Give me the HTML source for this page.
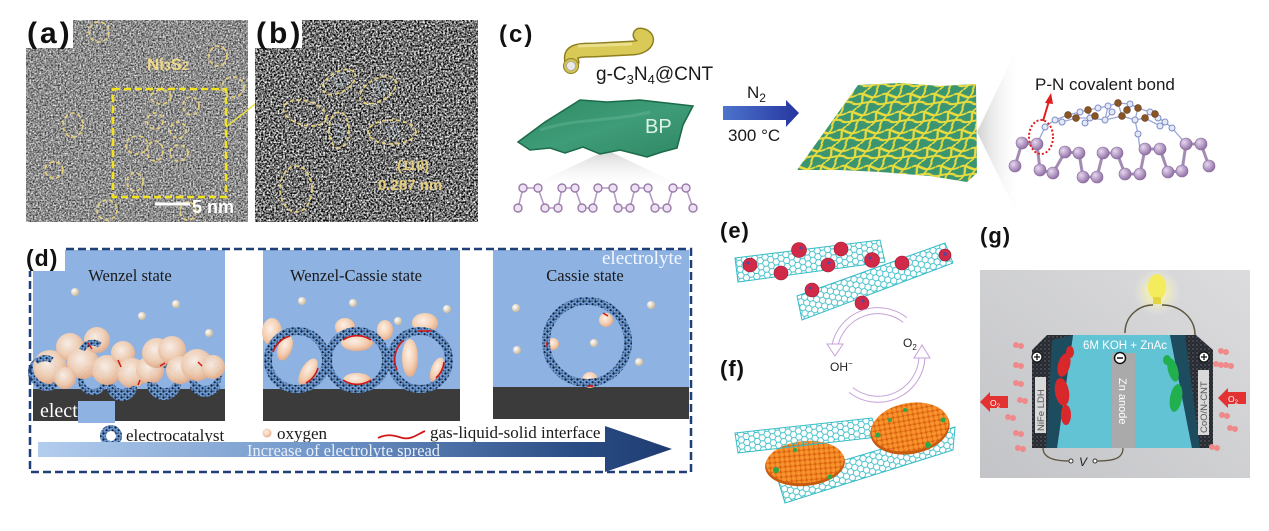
<!DOCTYPE html>
<html><head><meta charset="utf-8">
<style>
html,body{margin:0;padding:0;background:#fff;}
svg{display:block;}
.rb{fill:none;stroke:url(#rs);stroke-width:8}
.rb6{fill:none;stroke:url(#rs);stroke-width:6}
.pe{fill:url(#peach)}
.ox{fill:url(#oxy)}
.yc{fill:none;stroke:#e6cf7c;stroke-width:1.8;stroke-dasharray:4 3}
.pa{fill:url(#pAtom);stroke:#86669a;stroke-width:.6}
.na{fill:#e4e9f8;stroke:#7d8cc6;stroke-width:1}
.ca{fill:#8a5526;stroke:#5e3510;stroke-width:.6}
.ch{fill:#ece2f2;stroke:#9a7aaa;stroke-width:1.4}
.rp{fill:#d02a48;stroke:#a0182f;stroke-width:.6}
.bub{fill:#f08a8a}
.ser{font-family:'Liberation Serif','Times New Roman',serif}
</style>
</head><body>
<svg width="1269" height="531" viewBox="0 0 1269 531" xmlns="http://www.w3.org/2000/svg" font-family="'Liberation Sans', Arial, sans-serif">
<defs>
 <filter id="temA" x="0" y="0" width="1" height="1" filterUnits="objectBoundingBox" color-interpolation-filters="sRGB">
  <feTurbulence type="fractalNoise" baseFrequency="0.6" numOctaves="3" seed="4"/>
  <feColorMatrix type="matrix" values="1.3 0 0 0 -0.1  1.3 0 0 0 -0.1  1.3 0 0 0 -0.1  0 0 0 0 1"/>
 </filter>
 <filter id="temB" x="0" y="0" width="1" height="1" filterUnits="objectBoundingBox" color-interpolation-filters="sRGB">
  <feTurbulence type="fractalNoise" baseFrequency="0.55" numOctaves="3" seed="9"/>
  <feColorMatrix type="matrix" values="2.2 0 0 0 -0.66  2.2 0 0 0 -0.66  2.2 0 0 0 -0.66  0 0 0 0 1"/>
 </filter>
 <pattern id="rs" width="6" height="6" patternUnits="userSpaceOnUse">
  <rect width="6" height="6" fill="#6d9cd6"/>
  <circle cx="1.5" cy="1.5" r="1.2" fill="#142033"/><circle cx="4.6" cy="4.2" r="1.1" fill="#142033"/>
  <rect x="3.2" y="0.6" width="1.6" height="1" fill="#26344a"/><rect x="0.5" y="4.4" width="1.4" height="1.2" fill="#2a3a55"/>
 </pattern>
 <radialGradient id="peach" cx=".42" cy=".38" r=".65">
  <stop offset="0" stop-color="#fdf0e6"/><stop offset=".6" stop-color="#f3cfb2"/><stop offset="1" stop-color="#e4a985"/>
 </radialGradient>
 <radialGradient id="oxy" cx=".35" cy=".35" r=".7">
  <stop offset="0" stop-color="#ffffff"/><stop offset="1" stop-color="#c9b594"/>
 </radialGradient>
 <radialGradient id="pAtom" cx=".35" cy=".35" r=".7">
  <stop offset="0" stop-color="#e6d8f0"/><stop offset="1" stop-color="#8e6ca2"/>
 </radialGradient>
 <linearGradient id="bigArrow" x1="38" y1="0" x2="672" y2="0" gradientUnits="userSpaceOnUse">
  <stop offset="0" stop-color="#b3cdee"/><stop offset=".45" stop-color="#6f95c8"/><stop offset=".85" stop-color="#2a4c84"/><stop offset="1" stop-color="#1e3c72"/>
 </linearGradient>
 <linearGradient id="blueArrow" x1="0" y1="0" x2="1" y2="0">
  <stop offset="0" stop-color="#4d74cc"/><stop offset="1" stop-color="#2636a0"/>
 </linearGradient>
 <linearGradient id="bpGrad" x1="0" y1="0" x2="1" y2="1">
  <stop offset="0" stop-color="#2c8a63"/><stop offset=".5" stop-color="#3f9c78"/><stop offset="1" stop-color="#2f8764"/>
 </linearGradient>
 <linearGradient id="shadeDown" x1="0" y1="0" x2="0" y2="1">
  <stop offset="0" stop-color="#c8c8c8"/><stop offset="1" stop-color="#ffffff" stop-opacity="0"/>
 </linearGradient>
 <linearGradient id="shadeRight" x1="0" y1="0" x2="1" y2="0">
  <stop offset="0" stop-color="#bdbdbd"/><stop offset="1" stop-color="#ffffff" stop-opacity="0"/>
 </linearGradient>
 <linearGradient id="gBg" x1="0" y1="1" x2="1" y2="0">
  <stop offset="0" stop-color="#c3c4c7"/><stop offset="1" stop-color="#dcdcde"/>
 </linearGradient>
 <radialGradient id="glow" cx=".5" cy=".5" r=".5">
  <stop offset="0" stop-color="#fffbd0"/><stop offset=".5" stop-color="#f8f3b0" stop-opacity=".6"/><stop offset="1" stop-color="#eeeeee" stop-opacity="0"/>
 </radialGradient>
 <pattern id="squig" width="24" height="18" patternUnits="userSpaceOnUse" patternTransform="skewX(-30)">
  <path d="M0,5 C6,0 14,12 24,5 M7,0 C1,6 14,11 7,18 M0,13 C5,17 16,9 24,13 M17,0 C21,6 13,12 17,18" stroke="#e9dc3e" stroke-width="2.1" fill="none"/>
 </pattern>
 <pattern id="hexE1" width="10.5" height="6.06" patternUnits="userSpaceOnUse" patternTransform="rotate(-7)">
  <path d="M0,3.03 L1.75,0 L5.25,0 L7,3.03 L5.25,6.06 L1.75,6.06 Z M7,3.03 L10.5,3.03" fill="none" stroke="#35bcc6" stroke-width=".9"/>
 </pattern>
 <pattern id="hexE2" width="10.5" height="6.06" patternUnits="userSpaceOnUse" patternTransform="rotate(-20)">
  <path d="M0,3.03 L1.75,0 L5.25,0 L7,3.03 L5.25,6.06 L1.75,6.06 Z M7,3.03 L10.5,3.03" fill="none" stroke="#35bcc6" stroke-width=".9"/>
 </pattern>
 <pattern id="hexF1" width="10.5" height="6.06" patternUnits="userSpaceOnUse" patternTransform="rotate(-6)">
  <path d="M0,3.03 L1.75,0 L5.25,0 L7,3.03 L5.25,6.06 L1.75,6.06 Z M7,3.03 L10.5,3.03" fill="none" stroke="#35bcc6" stroke-width=".9"/>
 </pattern>
 <pattern id="hexF2" width="10.5" height="6.06" patternUnits="userSpaceOnUse" patternTransform="rotate(-17)">
  <path d="M0,3.03 L1.75,0 L5.25,0 L7,3.03 L5.25,6.06 L1.75,6.06 Z M7,3.03 L10.5,3.03" fill="none" stroke="#35bcc6" stroke-width=".9"/>
 </pattern>
 <pattern id="orb" width="5" height="5" patternUnits="userSpaceOnUse">
  <rect width="5" height="5" fill="#dc6410"/><circle cx="2.5" cy="2.5" r="2.3" fill="#f7922c"/>
 </pattern>
 <pattern id="speck" width="4" height="4" patternUnits="userSpaceOnUse">
  <rect width="4" height="4" fill="#272b31"/><circle cx="1" cy="1" r=".7" fill="#6a6e76"/><circle cx="3" cy="3" r=".5" fill="#50545c"/>
 </pattern>
 <clipPath id="sheetClip"><polygon points="858,85 900,83 940,86 976,84 977,173 967,182 930,176 880,172 840,170 797,170"/></clipPath>
</defs>

<rect width="1269" height="531" fill="#fff"/>

<!-- ========== (a) ========== -->
<rect x="26" y="20" width="222" height="202" filter="url(#temA)"/>
<rect x="26" y="20" width="47" height="28" fill="#fff"/>
<text x="27" y="43" font-size="30" font-weight="bold" letter-spacing="3" fill="#111">(a)</text>
<text x="147" y="70" font-size="17" font-weight="bold" fill="#f0d984">Ni<tspan font-size="12">3</tspan>S<tspan font-size="12">2</tspan></text>
<g class="yc">
 <ellipse cx="99" cy="32" rx="10" ry="10"/>
 <ellipse cx="218" cy="56" rx="9" ry="10"/>
 <ellipse cx="233" cy="87" rx="11" ry="10"/>
 <ellipse cx="73" cy="125" rx="10" ry="12"/>
 <ellipse cx="54" cy="170" rx="9" ry="8"/>
 <ellipse cx="107" cy="210" rx="10" ry="10"/>
 <ellipse cx="188" cy="211" rx="8" ry="9"/>
 <ellipse cx="135" cy="182" rx="8" ry="9"/>
 <ellipse cx="161" cy="97" rx="10" ry="7"/>
 <ellipse cx="191" cy="106" rx="8" ry="9"/>
 <ellipse cx="155" cy="121" rx="8" ry="8"/>
 <ellipse cx="178" cy="130" rx="8" ry="8"/>
 <ellipse cx="137" cy="145" rx="11" ry="9"/>
 <ellipse cx="155" cy="151" rx="8" ry="10"/>
 <ellipse cx="179" cy="153" rx="9" ry="8"/>
</g>
<rect x="113" y="89" width="113" height="108" fill="none" stroke="#f2e31e" stroke-width="2.5" stroke-dasharray="7 4"/>
<line x1="226" y1="127" x2="268" y2="94" stroke="#eae23e" stroke-width="1.5"/>
<line x1="155" y1="204" x2="190" y2="204" stroke="#fff" stroke-width="3"/>
<text x="192" y="213" font-size="18" font-weight="bold" fill="#fff">5 nm</text>

<!-- ========== (b) ========== -->
<rect x="255" y="20" width="223" height="202" filter="url(#temB)"/>
<rect x="255" y="20" width="47" height="28" fill="#fff"/>
<text x="256" y="43" font-size="30" font-weight="bold" letter-spacing="3" fill="#111">(b)</text>
<g class="yc" stroke-width="2.2">
 <ellipse cx="339" cy="82" rx="18" ry="10" transform="rotate(-30 339 82)"/>
 <ellipse cx="378" cy="90" rx="20" ry="11" transform="rotate(-30 378 90)"/>
 <ellipse cx="305" cy="113" rx="22" ry="12" transform="rotate(15 305 113)"/>
 <ellipse cx="339" cy="130" rx="10" ry="18"/>
 <ellipse cx="392" cy="132" rx="24" ry="12"/>
 <ellipse cx="296" cy="189" rx="16" ry="23"/>
</g>
<g stroke="#bcd4ea" stroke-width="1" opacity=".8">
 <line x1="333" y1="76" x2="338" y2="88"/><line x1="338" y1="74" x2="343" y2="86"/><line x1="343" y1="73" x2="348" y2="84"/>
 <line x1="372" y1="84" x2="376" y2="97"/><line x1="377" y1="82" x2="381" y2="95"/><line x1="382" y1="81" x2="386" y2="92"/>
 <line x1="335" y1="124" x2="344" y2="128"/><line x1="334" y1="130" x2="344" y2="134"/><line x1="335" y1="136" x2="343" y2="139"/>
 <line x1="386" y1="126" x2="390" y2="138"/><line x1="391" y1="125" x2="395" y2="138"/><line x1="396" y1="126" x2="400" y2="137"/>
</g>
<text x="397" y="170" font-size="14" font-weight="bold" fill="#e6cf7c">(110)</text>
<text x="378" y="190" font-size="15" font-weight="bold" fill="#e6cf7c">0.287 nm</text>

<!-- ========== (c) ========== -->
<text x="499" y="42" font-size="24" font-weight="bold" letter-spacing="2" fill="#111">(c)</text>
<path d="M572,62 C568,50 580,50 595,50 L633,48 C648,47 651,36 640,35" fill="none" stroke="#8e7f20" stroke-width="15" stroke-linecap="round"/>
<path d="M572,62 C568,50 580,50 595,50 L633,48 C648,47 651,36 640,35" fill="none" stroke="#d9ca58" stroke-width="12" stroke-linecap="round"/>
<path d="M578,46 L632,44" stroke="#efe49a" stroke-width="3" fill="none" opacity=".8"/>
<circle cx="571" cy="66" r="7.5" fill="#d2c255" stroke="#8e7f20" stroke-width="1"/>
<circle cx="571" cy="66" r="4.5" fill="#e9e9e9" stroke="#a8a8a8" stroke-width=".8"/>
<text x="596" y="80" font-size="19" fill="#1a1a1a">g-C<tspan font-size="13" dy="4">3</tspan><tspan dy="-4">N</tspan><tspan font-size="13" dy="4">4</tspan><tspan dy="-4">@CNT</tspan></text>
<polygon points="607,150 522,190 690,190" fill="url(#shadeDown)" opacity=".8"/>
<polygon points="518,142 545,122 580,100 607,102 640,100 693,106 683,125 677,148 662,152 647,157 620,150 600,154 583,147 565,153 550,148 530,150" fill="url(#bpGrad)" stroke="#1b6a48" stroke-width="1.5"/>
<path d="M540,130 C575,118 610,122 650,112" stroke="#5fb393" stroke-width="3" fill="none" opacity=".5"/>
<text x="645" y="133" font-size="20" fill="#dff2e9">BP</text>
<polyline points="518,208 523,188 538,188 545,208 558,208 562,188 575,188 582,208 593,208 598,188 613,188 618,208 630,208 635,188 648,188 655,208 667,208 673,188 686,188 693,208" fill="none" stroke="#b49cc4" stroke-width="1.6"/>
<g class="ch">
 <circle cx="518" cy="208" r="4"/><circle cx="523" cy="188" r="4"/><circle cx="538" cy="188" r="4"/><circle cx="545" cy="208" r="4"/><circle cx="558" cy="208" r="4"/>
 <circle cx="562" cy="188" r="4"/><circle cx="575" cy="188" r="4"/><circle cx="582" cy="208" r="4"/><circle cx="593" cy="208" r="4"/><circle cx="598" cy="188" r="4"/>
 <circle cx="613" cy="188" r="4"/><circle cx="618" cy="208" r="4"/><circle cx="630" cy="208" r="4"/><circle cx="635" cy="188" r="4"/><circle cx="648" cy="188" r="4"/>
 <circle cx="655" cy="208" r="4"/><circle cx="667" cy="208" r="4"/><circle cx="673" cy="188" r="4"/><circle cx="686" cy="188" r="4"/><circle cx="693" cy="208" r="4"/>
</g>
<polygon points="723,106 786,106 786,100 799,113 786,127 786,120 723,120" fill="url(#blueArrow)"/>
<text x="747" y="98" font-size="17" fill="#1a1a1a">N<tspan font-size="12" dy="4">2</tspan></text>
<text x="728" y="141" font-size="17" fill="#1a1a1a">300 °C</text>
<polygon points="977,132 1022,38 1022,224" fill="url(#shadeRight)" opacity=".7"/>
<polygon points="858,85 900,83 940,86 976,84 977,173 967,182 930,176 880,172 840,170 797,170" fill="#3c9571"/>
<rect x="790" y="80" width="195" height="105" fill="url(#squig)" clip-path="url(#sheetClip)"/>
<text x="1035" y="90" font-size="17" fill="#1a1a1a">P-N covalent bond</text>
<line x1="1043" y1="121" x2="1049" y2="101" stroke="#e01e1e" stroke-width="2"/>
<polygon points="1051,93 1045,103 1053,104" fill="#e01e1e"/>
<g stroke="#a38cb4" stroke-width="3" fill="none">
 <polyline points="1015,166 1022,143 1037,144 1040,170 1053,173 1065,152 1079,153 1083,177 1097,177 1103,153 1117,153 1125,174 1140,174 1145,149 1160,149 1168,172 1182,171 1186,144 1201,144 1209,166"/>
</g>
<g stroke="#9aa6d6" stroke-width="1.3" fill="none">
 <polyline points="1037,144 1045,127 1055,120 1068,115 1080,112 1088,110 1098,108 1108,106 1118,103 1130,104 1138,108 1150,112 1158,118 1165,122 1172,128 1186,144"/>
 <polyline points="1055,120 1062,122 1076,118 1090,118 1105,120 1122,116 1135,120 1145,118 1160,126 1165,122"/>
 <polyline points="1068,115 1076,118"/><polyline points="1088,110 1090,118"/><polyline points="1108,106 1105,120"/>
 <polyline points="1118,103 1122,116"/><polyline points="1138,108 1135,120"/><polyline points="1150,112 1145,118"/>
 <polyline points="1135,120 1138,134 1140,149"/>
 <polyline points="1085,123 1090,118"/><polyline points="1112,112 1105,120"/>
</g>
<g class="pa">
 <circle cx="1022" cy="143" r="6"/><circle cx="1037" cy="144" r="6"/><circle cx="1065" cy="152" r="6"/><circle cx="1079" cy="153" r="6"/>
 <circle cx="1103" cy="153" r="6"/><circle cx="1117" cy="153" r="6"/><circle cx="1145" cy="149" r="6"/><circle cx="1160" cy="149" r="6"/>
 <circle cx="1186" cy="144" r="6"/><circle cx="1201" cy="144" r="6"/>
 <circle cx="1015" cy="166" r="6"/><circle cx="1040" cy="170" r="6"/><circle cx="1053" cy="173" r="6"/><circle cx="1083" cy="177" r="6"/>
 <circle cx="1097" cy="177" r="6"/><circle cx="1125" cy="174" r="6"/><circle cx="1140" cy="174" r="6"/><circle cx="1168" cy="172" r="6"/>
 <circle cx="1182" cy="171" r="6"/><circle cx="1209" cy="166" r="6"/>
</g>
<g class="na">
 <circle cx="1045" cy="127" r="3"/><circle cx="1055" cy="120" r="3"/><circle cx="1062" cy="122" r="3"/><circle cx="1080" cy="112" r="3"/>
 <circle cx="1098" cy="108" r="3"/><circle cx="1108" cy="106" r="3"/><circle cx="1130" cy="104" r="3"/><circle cx="1150" cy="112" r="3"/>
 <circle cx="1158" cy="118" r="3"/><circle cx="1165" cy="122" r="3"/><circle cx="1172" cy="128" r="3"/><circle cx="1085" cy="123" r="3"/>
 <circle cx="1105" cy="120" r="3"/><circle cx="1135" cy="120" r="3"/><circle cx="1160" cy="126" r="3"/><circle cx="1138" cy="134" r="3"/>
 <circle cx="1090" cy="118" r="3"/><circle cx="1112" cy="112" r="3"/>
</g>
<g class="ca">
 <circle cx="1068" cy="115" r="3.4"/><circle cx="1076" cy="118" r="3.4"/><circle cx="1088" cy="110" r="3.4"/><circle cx="1095" cy="116" r="3.4"/>
 <circle cx="1118" cy="103" r="3.4"/><circle cx="1122" cy="116" r="3.4"/><circle cx="1138" cy="108" r="3.4"/><circle cx="1145" cy="118" r="3.4"/>
 <circle cx="1155" cy="114" r="3.4"/><circle cx="1127" cy="110" r="3.4"/>
</g>
<ellipse cx="1041" cy="137" rx="12" ry="17" fill="none" stroke="#e01e1e" stroke-width="2" stroke-dasharray="2 2"/>

<!-- ========== (d) ========== -->
<rect x="33" y="250" width="192" height="171" fill="#8eb2e2"/>
<rect x="263" y="250" width="197" height="171" fill="#8eb2e2"/>
<rect x="493" y="250" width="196" height="169" fill="#8eb2e2"/>
<rect x="33" y="389" width="192" height="32" fill="#3b3b3b"/>
<rect x="263" y="389" width="197" height="32" fill="#3b3b3b"/>
<rect x="493" y="387" width="196" height="32" fill="#3b3b3b"/>
<text x="40" y="417" font-size="20" fill="#fff" class="ser">elect</text>
<rect x="78" y="401" width="37" height="22" fill="#8eb2e2"/>
<text x="130" y="281" font-size="16.5" fill="#1a1a1a" text-anchor="middle" class="ser">Wenzel state</text>
<text x="356" y="281" font-size="16.5" fill="#1a1a1a" text-anchor="middle" class="ser">Wenzel-Cassie state</text>
<text x="585" y="281" font-size="16.5" fill="#1a1a1a" text-anchor="middle" class="ser">Cassie state</text>
<text x="602" y="264" font-size="19" fill="#f4f8ff" class="ser">electrolyte</text>
<g class="ox">
 <circle cx="75" cy="292" r="4"/><circle cx="142" cy="316" r="4"/><circle cx="176" cy="304" r="4"/><circle cx="209" cy="333" r="4"/>
 <circle cx="302" cy="301" r="4"/><circle cx="353" cy="303" r="4"/><circle cx="447" cy="309" r="4"/><circle cx="398" cy="321" r="4"/>
 <circle cx="516" cy="308" r="4"/><circle cx="651" cy="305" r="4"/><circle cx="517" cy="350" r="4"/><circle cx="594" cy="343" r="4"/><circle cx="639" cy="362" r="4"/>
</g>
<g>
 <circle class="rb6" cx="44" cy="372" r="13"/>
 <circle class="rb6" cx="93" cy="380" r="12"/>
 <circle class="rb6" cx="122" cy="380" r="12"/>
 <circle class="rb6" cx="165" cy="378" r="13"/>
 <circle class="rb6" cx="205" cy="375" r="14"/>
</g>
<g class="pe" opacity=".95">
 <circle cx="50" cy="367" r="17"/><circle cx="70" cy="347" r="14"/><circle cx="83" cy="363" r="16"/><circle cx="97" cy="340" r="13"/>
 <circle cx="107" cy="370" r="15"/><circle cx="123" cy="353" r="12"/><circle cx="132" cy="373" r="15"/><circle cx="150" cy="370" r="14"/>
 <circle cx="157" cy="353" r="15"/><circle cx="172" cy="350" r="14"/><circle cx="180" cy="370" r="14"/><circle cx="197" cy="365" r="16"/>
 <circle cx="213" cy="367" r="12"/><circle cx="65" cy="378" r="11"/>
</g>
<g>
 <path class="rb6" d="M82,350 A12,12 0 0 1 100,345"/>
 <path class="rb6" d="M150,382 A13,13 0 0 0 178,384"/>
 <path class="rb6" d="M192,385 A14,14 0 0 0 218,385"/>
 <path class="rb6" d="M34,378 A13,13 0 0 0 56,384"/>
 <path class="rb6" d="M110,386 A12,12 0 0 0 134,386"/>
 <path class="rb6" d="M36,362 A13,13 0 0 1 52,360"/>
</g>
<g stroke="#d01818" stroke-width="1.5" fill="none">
 <path d="M88,343 l4,6"/><path d="M118,360 l3,7"/><path d="M160,366 l5,-3"/><path d="M198,362 l4,4"/><path d="M140,380 l-2,5"/>
</g>
<g class="pe">
 <ellipse cx="272" cy="332" rx="10" ry="14"/>
 <ellipse cx="285" cy="348" rx="7" ry="13" transform="rotate(20 285 348)"/>
 <ellipse cx="308" cy="372" rx="7" ry="15" transform="rotate(30 308 372)"/>
 <ellipse cx="345" cy="327" rx="10" ry="9"/>
 <ellipse cx="357" cy="343" rx="16" ry="8"/>
 <ellipse cx="357" cy="380" rx="14" ry="7"/>
 <ellipse cx="425" cy="323" rx="13" ry="10"/>
 <ellipse cx="410" cy="358" rx="8" ry="19"/>
 <ellipse cx="437" cy="370" rx="6" ry="13" transform="rotate(20 437 370)"/>
 <ellipse cx="385" cy="330" rx="8" ry="10"/>
</g>
<circle class="rb" cx="297" cy="360" r="29"/>
<circle class="rb" cx="357" cy="360" r="29"/>
<circle class="rb" cx="420" cy="360" r="29"/>
<g stroke="#d01818" stroke-width="1.6" fill="none">
 <path d="M273,352 A25,25 0 0 1 290,336"/><path d="M318,368 A25,25 0 0 1 306,383"/>
 <path d="M343,340 A25,25 0 0 1 371,340"/><path d="M343,380 A25,25 0 0 0 371,380"/>
 <path d="M404,340 A25,25 0 0 0 397,370"/><path d="M444,362 A25,25 0 0 1 436,378"/>
 <path d="M418,331 l14,0"/>
</g>
<g class="pe">
 <circle cx="606" cy="320" r="7"/><circle cx="553" cy="344" r="6"/><circle cx="590" cy="380" r="8"/>
</g>
<circle class="rb" cx="587" cy="342" r="41" stroke-width="7"/>
<g stroke="#d01818" stroke-width="1.6" fill="none"><path d="M603,313 l5,3"/><path d="M547,342 l0,5"/><path d="M587,386 l6,0"/></g>
<rect x="30" y="249" width="661" height="223" fill="none" stroke="#1f3f78" stroke-width="2.5" stroke-dasharray="8 4"/>
<rect x="25" y="245" width="40" height="26" fill="#fff"/>
<text x="26" y="266" font-size="23" font-weight="bold" letter-spacing="1" fill="#111">(d)</text>
<circle class="rb6" cx="111" cy="436" r="8" stroke-width="5"/>
<text x="126" y="441" font-size="17" fill="#1a1a1a" class="ser">electrocatalyst</text>
<circle cx="267" cy="433" r="4.5" class="pe"/>
<text x="277" y="439" font-size="17" fill="#1a1a1a" class="ser">oxygen</text>
<path d="M378,438 C388,433 395,436 403,438 C411,440 418,434 425,431" stroke="#d01818" stroke-width="1.8" fill="none"/>
<text x="430" y="438" font-size="17" fill="#1a1a1a" class="ser">gas-liquid-solid interface</text>
<polygon points="38,442 605,442 605,426 672,449 605,472 605,457 38,457" fill="url(#bigArrow)"/>
<text x="247" y="456" font-size="16.5" fill="#e8f0fa" class="ser" textLength="193" lengthAdjust="spacingAndGlyphs">Increase of  electrolyte spread</text>

<!-- ========== (e) ========== -->
<text x="720" y="238" font-size="22" font-weight="bold" letter-spacing="1" fill="#111">(e)</text>
<polygon points="735,258 880,240 885,262 738,282" fill="url(#hexE1)" stroke="#35bcc6" stroke-width="1"/>
<polygon points="797,296 945,243 953,263 802,320" fill="#fff"/>
<polygon points="797,296 945,243 953,263 802,320" fill="url(#hexE2)" stroke="#35bcc6" stroke-width="1"/>
<g class="rp">
 <circle cx="750" cy="265" r="7"/><circle cx="781" cy="273" r="7"/><circle cx="799" cy="250" r="7.5"/><circle cx="841" cy="249" r="7"/>
 <circle cx="828" cy="265" r="7"/><circle cx="872" cy="260" r="7.5"/><circle cx="902" cy="263" r="7"/><circle cx="945" cy="255" r="6"/>
 <circle cx="812" cy="290" r="7"/><circle cx="862" cy="303" r="7"/>
</g>
<g fill="#4a4aa8">
 <circle cx="748" cy="263" r="1.5"/><circle cx="801" cy="248" r="1.5"/><circle cx="829" cy="263" r="1.5"/><circle cx="870" cy="258" r="1.5"/>
 <circle cx="945" cy="254" r="1.8"/><circle cx="810" cy="288" r="1.5"/><circle cx="863" cy="301" r="1.5"/>
</g>
<path d="M905,320 A44,44 0 0 0 835,345" fill="none" stroke="#c6a2d8" stroke-width="7"/>
<path d="M905,320 A44,44 0 0 0 835,345" fill="none" stroke="#fff" stroke-width="5"/>
<polygon points="827,344 843,344 835,356" fill="#fff" stroke="#c6a2d8" stroke-width="1"/>
<path d="M851,390 A44,44 0 0 0 922,357" fill="none" stroke="#c6a2d8" stroke-width="7"/>
<path d="M851,390 A44,44 0 0 0 922,357" fill="none" stroke="#fff" stroke-width="5"/>
<polygon points="914,358 930,358 922,345" fill="#fff" stroke="#c6a2d8" stroke-width="1"/>
<text x="903" y="347" font-size="12" fill="#222">O<tspan font-size="8" dy="3">2</tspan></text>
<text x="830" y="371" font-size="12" fill="#222">OH<tspan font-size="8" dy="-5">−</tspan></text>

<!-- ========== (f) ========== -->
<text x="720" y="376" font-size="22" font-weight="bold" letter-spacing="1" fill="#111">(f)</text>
<polygon points="778,480 955,427 953,450 785,503" fill="url(#hexF2)" stroke="#35bcc6" stroke-width="1"/>
<ellipse cx="805" cy="464" rx="40" ry="22" transform="rotate(-5 805 464)" fill="#c85a10"/>
<ellipse cx="805" cy="462" rx="39" ry="21" transform="rotate(-5 805 462)" fill="url(#orb)"/>
<polygon points="735,433 872,418 878,437 738,453" fill="url(#hexF1)" stroke="#35bcc6" stroke-width="1"/>
<ellipse cx="910" cy="429" rx="40" ry="25" transform="rotate(-10 910 429)" fill="#c85a10"/>
<ellipse cx="910" cy="427" rx="39" ry="24" transform="rotate(-10 910 427)" fill="url(#orb)"/>
<g fill="#2aa84a">
 <circle cx="776" cy="470" r="3"/><circle cx="830" cy="477" r="2.5"/><circle cx="795" cy="450" r="2"/>
 <circle cx="878" cy="435" r="2.5"/><circle cx="905" cy="410" r="2"/><circle cx="928" cy="445" r="3"/><circle cx="943" cy="420" r="2.5"/><circle cx="890" cy="420" r="2"/>
</g>

<!-- ========== (g) ========== -->
<text x="980" y="243" font-size="22" font-weight="bold" letter-spacing="1" fill="#111">(g)</text>
<rect x="980" y="270" width="270" height="208" fill="url(#gBg)"/>
<circle cx="1157" cy="292" r="24" fill="url(#glow)"/>
<path d="M1125,333 C1125,315 1140,305 1153,305 M1162,305 C1180,305 1195,318 1195,335" fill="none" stroke="#5e5640" stroke-width="1.5"/>
<ellipse cx="1157" cy="287" rx="9" ry="13" fill="#f4ec5c"/>
<rect x="1153" y="297" width="8" height="7" fill="#e2d444"/>
<polygon points="1073,335 1170,335 1192,448 1057,448" fill="#62c3d5"/>
<polygon points="1032,350 1047,335 1073,335 1057,448 1032,448" fill="url(#speck)"/>
<polygon points="1052,340 1073,335 1057,448 1046,448" fill="#1d4c5e"/>
<g fill="#d8282c">
 <ellipse cx="1064" cy="365" rx="6" ry="12" transform="rotate(15 1064 365)"/>
 <ellipse cx="1062" cy="392" rx="7" ry="14" transform="rotate(-10 1062 392)"/>
 <ellipse cx="1066" cy="415" rx="5" ry="10"/>
 <ellipse cx="1070" cy="352" rx="4" ry="6"/>
</g>
<polygon points="1170,335 1196,335 1213,350 1213,448 1192,448" fill="url(#speck)"/>
<polygon points="1170,335 1185,335 1200,448 1192,448" fill="#1d4c5e"/>
<g fill="#22b04e">
 <ellipse cx="1173" cy="370" rx="5" ry="12" transform="rotate(-15 1173 370)"/>
 <ellipse cx="1176" cy="398" rx="6" ry="14" transform="rotate(10 1176 398)"/>
 <ellipse cx="1167" cy="360" rx="4" ry="5"/>
</g>
<rect x="1112" y="353" width="23" height="95" fill="#aaaaaa"/>
<text transform="translate(1119,378) rotate(90)" font-size="11" fill="#fff">Zn anode</text>
<circle cx="1120" cy="358" r="5.5" fill="#fff" stroke="#111" stroke-width="1.5"/>
<line x1="1117" y1="358" x2="1123" y2="358" stroke="#111" stroke-width="1.5"/>
<text x="1083" y="349" font-size="11.5" fill="#fff">6M KOH + ZnAc</text>
<circle cx="1037" cy="357" r="5" fill="#fff" stroke="#111" stroke-width="1.2"/>
<path d="M1034,357 h6 M1037,354 v6" stroke="#111" stroke-width="1.3"/>
<circle cx="1204" cy="357" r="5" fill="#fff" stroke="#111" stroke-width="1.2"/>
<path d="M1201,357 h6 M1204,354 v6" stroke="#111" stroke-width="1.3"/>
<rect x="1035" y="377" width="11" height="56" fill="#d9d9d9"/>
<text transform="translate(1044,431) rotate(-90)" font-size="9.5" fill="#555">NiFe LDH</text>
<rect x="1198" y="370" width="11" height="65" fill="#d9d9d9"/>
<text transform="translate(1207,433) rotate(-90)" font-size="9.5" fill="#555">CoO/N-CNT</text>
<polygon points="980,402 990,392 990,396 1008,396 1008,408 990,408 990,412" fill="#e23232"/>
<text x="990" y="406" font-size="8.5" fill="#fff">O<tspan font-size="6" dy="2">2</tspan></text>
<polygon points="1218,398 1228,388 1228,392 1246,392 1246,404 1228,404 1228,408" fill="#e23232"/>
<text x="1228" y="402" font-size="8.5" fill="#fff">O<tspan font-size="6" dy="2">2</tspan></text>
<g class="bub">
 <circle cx="1016" cy="345" r="3"/><circle cx="1021" cy="346" r="3"/>
 <circle cx="1016" cy="365" r="3"/><circle cx="1021" cy="366" r="3"/>
 <circle cx="1016" cy="383" r="3"/><circle cx="1021" cy="384" r="3"/>
 <circle cx="1020" cy="400" r="3"/><circle cx="1025" cy="401" r="3"/>
 <circle cx="1008" cy="417" r="3"/><circle cx="1013" cy="418" r="3"/>
 <circle cx="1016" cy="433" r="3"/><circle cx="1021" cy="434" r="3"/>
 <circle cx="1018" cy="448" r="3"/><circle cx="1023" cy="449" r="3"/>
 <circle cx="1221" cy="351" r="3"/><circle cx="1226" cy="352" r="3"/>
 <circle cx="1226" cy="365" r="3"/><circle cx="1231" cy="366" r="3"/>
 <circle cx="1216" cy="364" r="3"/><circle cx="1221" cy="365" r="3"/>
 <circle cx="1222" cy="415" r="3"/><circle cx="1227" cy="416" r="3"/>
 <circle cx="1230" cy="428" r="3"/><circle cx="1235" cy="429" r="3"/>
 <circle cx="1212" cy="447" r="3"/><circle cx="1217" cy="448" r="3"/>
</g>
<path d="M1043,448 C1043,458 1055,461 1069,461" fill="none" stroke="#5e5640" stroke-width="1.3"/>
<circle cx="1071" cy="461" r="2" fill="#fff" stroke="#333" stroke-width="1"/>
<text x="1079" y="466" font-size="12" font-style="italic" fill="#222">V</text>
<circle cx="1095" cy="461" r="2" fill="#fff" stroke="#333" stroke-width="1"/>
<path d="M1097,461 C1115,461 1123,458 1123,448" fill="none" stroke="#5e5640" stroke-width="1.3"/>
</svg>
</body></html>
